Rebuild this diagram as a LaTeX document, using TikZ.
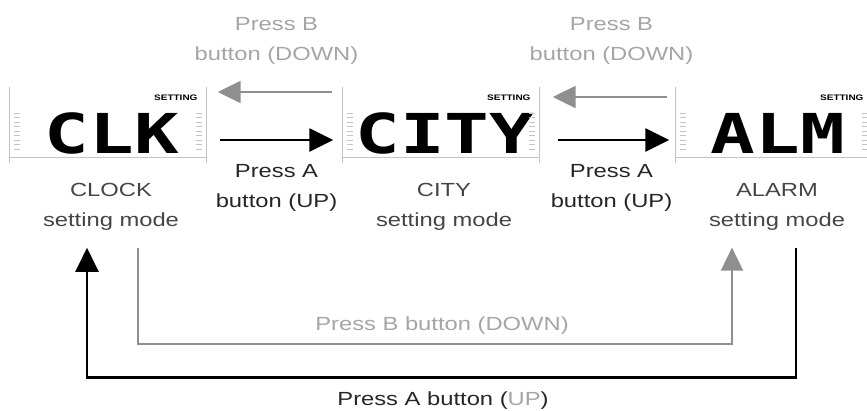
\documentclass[tikz,border=0pt]{standalone}
\usepackage{fontspec}
\setmainfont{Liberation Sans}[FakeStretch=1.25]
\newfontfamily\lcdfont{DejaVu Sans Mono}[FakeStretch=1.35]
\usepackage{xcolor}
\usetikzlibrary{positioning,arrows.meta}
\definecolor{downgray}{HTML}{8F8F8F}
\definecolor{downtext}{HTML}{A5A5A5}
\definecolor{modegray}{HTML}{454545}
\definecolor{lcdline}{HTML}{C4C4C4}

\begin{document}
\begin{tikzpicture}[x=1pt, y=-1pt,
    every node/.style = {inner sep=0pt, align=center,
      font=\fontsize{19}{30}\selectfont},
    lcd/.style = {minimum width=197pt, minimum height=76pt},
    lcdtext/.style = {font=\lcdfont\bfseries\fontsize{55}{55}\selectfont},
    settext/.style = {font=\bfseries\fontsize{8}{8}\selectfont, anchor=east},
    modetext/.style = {text=modegray, below=20pt},
    fwd/.style = {draw=black, line width=2.6pt,
      -{Triangle[length=24pt,width=23pt]}},
    bwd/.style = {draw=downgray, line width=2.2pt,
      -{Triangle[length=23pt,width=22pt]}},
    fwdtext/.style = {text=black!85},
    bwdtext/.style = {text=downtext}]
  \useasboundingbox (0,0) rectangle (867,410);
  \foreach \nm/\txt/\mode/\x in {clk/CLK/CLOCK/108, city/CITY/CITY/441, alm/ALM/ALARM/774}{
    \node[lcd] (\nm) at (\x,125) {};
    \node[lcdtext] (\nm-txt) at ([xshift=4pt,yshift=-8pt]\nm.center) {\txt};
    \node[settext] (\nm-set) at ([xshift=-9pt,yshift=-11pt]\nm.north east) {SETTING};
    \draw[lcdline, line width=1.2pt] (\nm.north west) -- (\nm.south west)
      (\nm.north east) -- (\nm.south east)
      ([yshift=6pt]\nm.south west) -- ([yshift=6pt]\nm.south east);
    \foreach \k in {0,...,8}
      \draw[lcdline, line width=0.6pt]
        ([xshift=5pt,yshift=-26pt-4.5pt*\k]\nm.north west) -- ++(6,0)
        ([xshift=-11pt,yshift=-26pt-4.5pt*\k]\nm.north east) -- ++(6,0);
    \node[modetext] (\nm-mode) at ([xshift=3pt]\nm.south) {\mode\\setting mode};
  }

  \draw[bwd, shorten <=10pt, shorten >=11pt] ([yshift=33pt]city.west) -- ([yshift=33pt]clk.east)
    node[bwdtext, midway, above=26pt, xshift=2pt] (down1) {Press B\\button (DOWN)};
  \draw[bwd, shorten <=8pt, shorten >=13pt] ([yshift=28pt]alm.west) -- ([yshift=28pt]city.east)
    node[bwdtext, midway, above=31pt, xshift=4pt] (down2) {Press B\\button (DOWN)};
  \draw[fwd, shorten <=13pt, shorten >=9pt] ([yshift=-15pt]clk.east) -- ([yshift=-15pt]city.west)
    node[fwdtext, midway, below=23pt, xshift=2pt] (up1) {Press A\\button (UP)};
  \draw[fwd, shorten <=18pt, shorten >=6pt] ([yshift=-15pt]city.east) -- ([yshift=-15pt]alm.west)
    node[fwdtext, midway, below=23pt, xshift=4pt] (up2) {Press A\\button (UP)};

  \draw[bwd, line width=2pt] ([xshift=27pt,yshift=-17pt]clk-mode.south) -- ++(0,96)
    -| ([xshift=-45pt,yshift=-17pt]alm-mode.south);
  \draw[fwd, line width=2.5pt] ([xshift=19pt,yshift=-17pt]alm-mode.south) -- ++(0,130)
    -| ([xshift=-24pt,yshift=-17pt]clk-mode.south);
  \node[bwdtext, anchor=base] (downall) at (442,330) {Press B button (DOWN)};
  \node[fwdtext, anchor=base] (upall) at (443,405) {Press A button (\textcolor{downtext}{UP})};
\end{tikzpicture}
\end{document}
